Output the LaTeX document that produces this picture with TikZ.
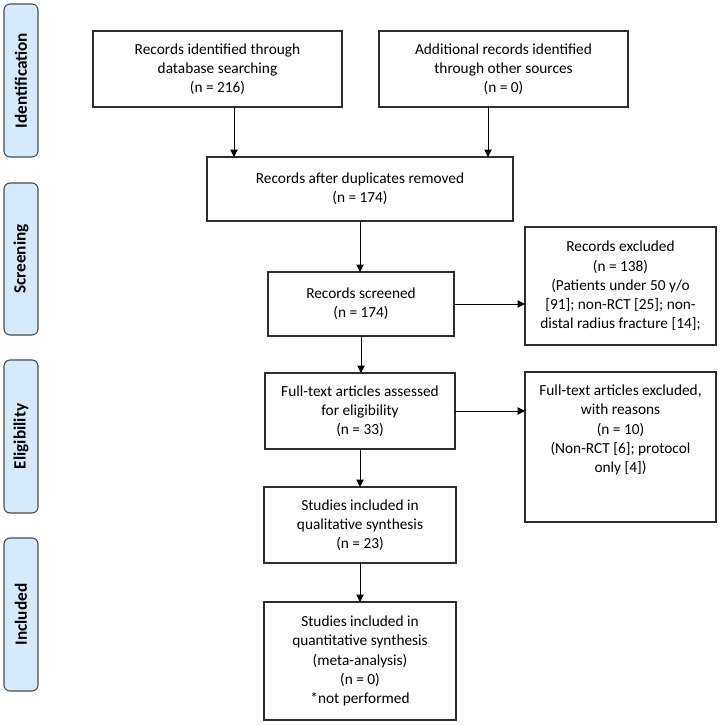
\documentclass[tikz,border=0pt]{standalone}
\usepackage{fontspec}
\setmainfont{Carlito}
\usetikzlibrary{calc,arrows.meta}

\definecolor{phasefill}{RGB}{213,235,251}
\definecolor{phaseline}{RGB}{75,75,75}
\definecolor{boxline}{RGB}{45,45,45}

\begin{document}
\begin{tikzpicture}[x=1bp, y=-1bp, inner sep=0pt, outer sep=0pt,
    box/.style={draw=boxline, line width=1.1bp, align=center, anchor=north west,
        font=\fontsize{15.4}{19.3}\selectfont},
    phase/.style={draw=phaseline, fill=phasefill, line width=1.1bp, rounded corners=6bp,
        rotate=90, minimum height=34bp, font=\fontsize{17.3}{20}\selectfont\bfseries},
    arr/.style={line width=1bp, -{Triangle[width=7.5bp,length=7.5bp]}}]
    \useasboundingbox (0,0) rectangle (722,726);

    % phases
    \node[phase, minimum width=153bp] (ph_id) at (21, 80.5) {Identification};
    \node[phase, minimum width=152bp] (ph_scr) at (21, 259) {Screening};
    \node[phase, minimum width=153bp] (ph_elig) at (21, 436.5) {Eligibility};
    \node[phase, minimum width=153bp] (ph_incl) at (21, 614.5) {Included};

    % identification
    \node[box, minimum width=249bp, minimum height=76bp] (rec_db) at (93, 31)
    {Records identified through\\database searching\\(n = 216)};
    \node[box, minimum width=249bp, minimum height=76bp] (rec_other) at (379, 31)
    {Additional records identified\\through other sources\\(n = 0)};

    % screening
    \node[box, minimum width=306bp, minimum height=64bp] (rec_dup) at (207, 157)
    {Records after duplicates removed\\(n = 174)};
    \node[box, minimum width=186bp, minimum height=64bp] (rec_scr) at (268, 272)
    {Records screened\\(n = 174)};
    \node[box, minimum width=191bp, minimum height=118bp] (rec_exc) at (525, 227)
    {Records excluded\\(n = 138)\\(Patients under 50 y/o\\{}[91]; non-RCT [25]; non-\\distal radius fracture [14];};

    % eligibility
    \node[box, minimum width=190bp, minimum height=76bp] (ft_ass) at (265, 373)
    {Full-text articles assessed\\for eligibility\\(n = 33)};
    \node[box, minimum width=191bp, minimum height=150bp] (ft_exc) at (525, 372) {};
    \node[align=center, font=\fontsize{15.4}{19.3}\selectfont] (ft_exc_txt)
    at ($(ft_exc.center) + (0, -17)$)
    {Full-text articles excluded,\\with reasons\\(n = 10)\\(Non-RCT [6]; protocol\\only [4])};

    % included
    \node[box, minimum width=192bp, minimum height=76bp] (st_qual) at (264, 487)
    {Studies included in\\qualitative synthesis\\(n = 23)};
    \node[box, minimum width=192bp, minimum height=118bp] (st_quant) at (264, 602)
    {Studies included in\\quantitative synthesis\\(meta-analysis)\\(n = 0)\\*not performed};

    % arrows
    \draw[arr] ($(rec_db.south) + (16.5, 0)$) coordinate (db_out) -- (db_out |- rec_dup.north);
    \draw[arr] ($(rec_other.south) + (-15.5, 0)$) coordinate (other_out) -- (other_out |- rec_dup.north);
    \draw[arr] (rec_dup.south) -- (rec_dup.south |- rec_scr.north);
    \draw[arr] (rec_scr.south) -- (rec_scr.south |- ft_ass.north);
    \draw[arr] (ft_ass.south) -- (ft_ass.south |- st_qual.north);
    \draw[arr] (st_qual.south) -- (st_quant.north);
    \draw[arr] (rec_scr.east) -- (rec_scr.east -| rec_exc.west);
    \draw[arr] (ft_ass.east) -- (ft_ass.east -| ft_exc.west);

\end{tikzpicture}
\end{document}
